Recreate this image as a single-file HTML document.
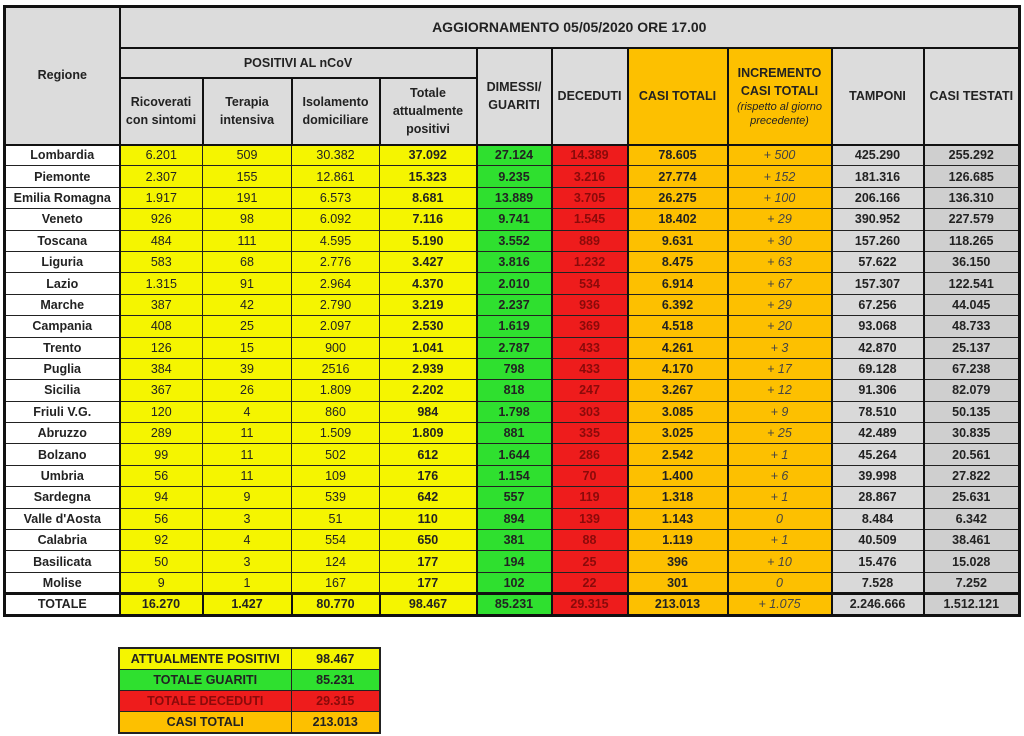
<!DOCTYPE html>
<html><head><meta charset="utf-8">
<style>
body{margin:0;width:1024px;height:736px;background:#fff;font-family:"Liberation Sans",Arial,sans-serif;overflow:hidden;position:relative}
table{border-collapse:collapse;table-layout:fixed;position:absolute}
#t{left:3px;top:5px;width:1015px;border:3px solid #111}
td{border:1px solid #222;text-align:center;padding:0;font-size:12.5px;color:#222;white-space:nowrap;overflow:hidden}
.h{background:#dcdcdc;font-weight:bold;font-size:12.5px;line-height:18px;white-space:normal;border:2px solid #111}
.r{background:#fff;font-weight:bold}
.y{background:#f5f500}
.yb{background:#f5f500;font-weight:bold}
.g{background:#2fe02f;font-weight:bold}
.d{background:#ee1c1c;color:#8a0a0a;font-weight:bold}
.o{background:#fdc000;font-weight:bold}
.oi{background:#fdc000;font-style:italic;color:#444}
.t1{background:#d9d9d9;font-weight:bold}
.t2{background:#cfcfcf;font-weight:bold}
tbody tr.dr{height:21.4px}
tr.dr td:nth-child(1){border-right:2px solid #111}
tr.dr td:nth-child(5),tr.dr td:nth-child(6),tr.dr td:nth-child(7),tr.dr td:nth-child(8),tr.dr td:nth-child(9),tr.dr td:nth-child(10){border-right:2px solid #111}
tr.tot td{border-top:3px solid #111;font-weight:bold;border-right:2px solid #111}
#s{left:118px;top:647px;width:261px;border:2px solid #222}
#s td{height:20px;font-weight:bold;font-size:12.5px;border:1px solid #222}
</style></head><body>
<table id="t">
<colgroup><col style="width:115px"><col style="width:83px"><col style="width:89px"><col style="width:88px"><col style="width:97px"><col style="width:75px"><col style="width:76px"><col style="width:100px"><col style="width:104px"><col style="width:92px"><col style="width:96px"></colgroup>
<tr style="height:41px"><td class="h" rowspan="3" style="vertical-align:top;padding-top:58px">Regione</td><td class="h" colspan="10" style="font-size:14px">AGGIORNAMENTO 05/05/2020 ORE 17.00</td></tr>
<tr style="height:30px"><td class="h" colspan="4">POSITIVI AL nCoV</td><td class="h" rowspan="2">DIMESSI/<br>GUARITI</td><td class="h" rowspan="2">DECEDUTI</td><td class="h" rowspan="2" style="background:#fdc000">CASI TOTALI</td><td class="h" rowspan="2" style="background:#fdc000">INCREMENTO<br>CASI TOTALI<br><span style="font-weight:normal;font-style:italic;font-size:11px;line-height:14px;display:block">(rispetto al giorno precedente)</span></td><td class="h" rowspan="2">TAMPONI</td><td class="h" rowspan="2">CASI TESTATI</td></tr>
<tr style="height:67px"><td class="h">Ricoverati con sintomi</td><td class="h">Terapia intensiva</td><td class="h">Isolamento domiciliare</td><td class="h">Totale attualmente positivi</td></tr>
<tr class="dr"><td class="r">Lombardia</td><td class="y">6.201</td><td class="y">509</td><td class="y">30.382</td><td class="yb">37.092</td><td class="g">27.124</td><td class="d">14.389</td><td class="o">78.605</td><td class="oi">+ 500</td><td class="t1">425.290</td><td class="t2">255.292</td></tr>
<tr class="dr"><td class="r">Piemonte</td><td class="y">2.307</td><td class="y">155</td><td class="y">12.861</td><td class="yb">15.323</td><td class="g">9.235</td><td class="d">3.216</td><td class="o">27.774</td><td class="oi">+ 152</td><td class="t1">181.316</td><td class="t2">126.685</td></tr>
<tr class="dr"><td class="r">Emilia Romagna</td><td class="y">1.917</td><td class="y">191</td><td class="y">6.573</td><td class="yb">8.681</td><td class="g">13.889</td><td class="d">3.705</td><td class="o">26.275</td><td class="oi">+ 100</td><td class="t1">206.166</td><td class="t2">136.310</td></tr>
<tr class="dr"><td class="r">Veneto</td><td class="y">926</td><td class="y">98</td><td class="y">6.092</td><td class="yb">7.116</td><td class="g">9.741</td><td class="d">1.545</td><td class="o">18.402</td><td class="oi">+ 29</td><td class="t1">390.952</td><td class="t2">227.579</td></tr>
<tr class="dr"><td class="r">Toscana</td><td class="y">484</td><td class="y">111</td><td class="y">4.595</td><td class="yb">5.190</td><td class="g">3.552</td><td class="d">889</td><td class="o">9.631</td><td class="oi">+ 30</td><td class="t1">157.260</td><td class="t2">118.265</td></tr>
<tr class="dr"><td class="r">Liguria</td><td class="y">583</td><td class="y">68</td><td class="y">2.776</td><td class="yb">3.427</td><td class="g">3.816</td><td class="d">1.232</td><td class="o">8.475</td><td class="oi">+ 63</td><td class="t1">57.622</td><td class="t2">36.150</td></tr>
<tr class="dr"><td class="r">Lazio</td><td class="y">1.315</td><td class="y">91</td><td class="y">2.964</td><td class="yb">4.370</td><td class="g">2.010</td><td class="d">534</td><td class="o">6.914</td><td class="oi">+ 67</td><td class="t1">157.307</td><td class="t2">122.541</td></tr>
<tr class="dr"><td class="r">Marche</td><td class="y">387</td><td class="y">42</td><td class="y">2.790</td><td class="yb">3.219</td><td class="g">2.237</td><td class="d">936</td><td class="o">6.392</td><td class="oi">+ 29</td><td class="t1">67.256</td><td class="t2">44.045</td></tr>
<tr class="dr"><td class="r">Campania</td><td class="y">408</td><td class="y">25</td><td class="y">2.097</td><td class="yb">2.530</td><td class="g">1.619</td><td class="d">369</td><td class="o">4.518</td><td class="oi">+ 20</td><td class="t1">93.068</td><td class="t2">48.733</td></tr>
<tr class="dr"><td class="r">Trento</td><td class="y">126</td><td class="y">15</td><td class="y">900</td><td class="yb">1.041</td><td class="g">2.787</td><td class="d">433</td><td class="o">4.261</td><td class="oi">+ 3</td><td class="t1">42.870</td><td class="t2">25.137</td></tr>
<tr class="dr"><td class="r">Puglia</td><td class="y">384</td><td class="y">39</td><td class="y">2516</td><td class="yb">2.939</td><td class="g">798</td><td class="d">433</td><td class="o">4.170</td><td class="oi">+ 17</td><td class="t1">69.128</td><td class="t2">67.238</td></tr>
<tr class="dr"><td class="r">Sicilia</td><td class="y">367</td><td class="y">26</td><td class="y">1.809</td><td class="yb">2.202</td><td class="g">818</td><td class="d">247</td><td class="o">3.267</td><td class="oi">+ 12</td><td class="t1">91.306</td><td class="t2">82.079</td></tr>
<tr class="dr"><td class="r">Friuli V.G.</td><td class="y">120</td><td class="y">4</td><td class="y">860</td><td class="yb">984</td><td class="g">1.798</td><td class="d">303</td><td class="o">3.085</td><td class="oi">+ 9</td><td class="t1">78.510</td><td class="t2">50.135</td></tr>
<tr class="dr"><td class="r">Abruzzo</td><td class="y">289</td><td class="y">11</td><td class="y">1.509</td><td class="yb">1.809</td><td class="g">881</td><td class="d">335</td><td class="o">3.025</td><td class="oi">+ 25</td><td class="t1">42.489</td><td class="t2">30.835</td></tr>
<tr class="dr"><td class="r">Bolzano</td><td class="y">99</td><td class="y">11</td><td class="y">502</td><td class="yb">612</td><td class="g">1.644</td><td class="d">286</td><td class="o">2.542</td><td class="oi">+ 1</td><td class="t1">45.264</td><td class="t2">20.561</td></tr>
<tr class="dr"><td class="r">Umbria</td><td class="y">56</td><td class="y">11</td><td class="y">109</td><td class="yb">176</td><td class="g">1.154</td><td class="d">70</td><td class="o">1.400</td><td class="oi">+ 6</td><td class="t1">39.998</td><td class="t2">27.822</td></tr>
<tr class="dr"><td class="r">Sardegna</td><td class="y">94</td><td class="y">9</td><td class="y">539</td><td class="yb">642</td><td class="g">557</td><td class="d">119</td><td class="o">1.318</td><td class="oi">+ 1</td><td class="t1">28.867</td><td class="t2">25.631</td></tr>
<tr class="dr"><td class="r">Valle d'Aosta</td><td class="y">56</td><td class="y">3</td><td class="y">51</td><td class="yb">110</td><td class="g">894</td><td class="d">139</td><td class="o">1.143</td><td class="oi">0</td><td class="t1">8.484</td><td class="t2">6.342</td></tr>
<tr class="dr"><td class="r">Calabria</td><td class="y">92</td><td class="y">4</td><td class="y">554</td><td class="yb">650</td><td class="g">381</td><td class="d">88</td><td class="o">1.119</td><td class="oi">+ 1</td><td class="t1">40.509</td><td class="t2">38.461</td></tr>
<tr class="dr"><td class="r">Basilicata</td><td class="y">50</td><td class="y">3</td><td class="y">124</td><td class="yb">177</td><td class="g">194</td><td class="d">25</td><td class="o">396</td><td class="oi">+ 10</td><td class="t1">15.476</td><td class="t2">15.028</td></tr>
<tr class="dr"><td class="r">Molise</td><td class="y">9</td><td class="y">1</td><td class="y">167</td><td class="yb">177</td><td class="g">102</td><td class="d">22</td><td class="o">301</td><td class="oi">0</td><td class="t1">7.528</td><td class="t2">7.252</td></tr>
<tr class="dr tot"><td class="r">TOTALE</td><td class="y">16.270</td><td class="y">1.427</td><td class="y">80.770</td><td class="yb">98.467</td><td class="g">85.231</td><td class="d">29.315</td><td class="o">213.013</td><td class="oi" style="font-weight:normal">+ 1.075</td><td class="t1">2.246.666</td><td class="t2">1.512.121</td></tr>
</table>
<table id="s">
<colgroup><col style="width:172px"><col style="width:89px"></colgroup>
<tr><td class="y">ATTUALMENTE POSITIVI</td><td class="y">98.467</td></tr>
<tr><td class="g">TOTALE GUARITI</td><td class="g">85.231</td></tr>
<tr><td class="d">TOTALE DECEDUTI</td><td class="d">29.315</td></tr>
<tr><td class="o">CASI TOTALI</td><td class="o">213.013</td></tr>
</table>
</body></html>
